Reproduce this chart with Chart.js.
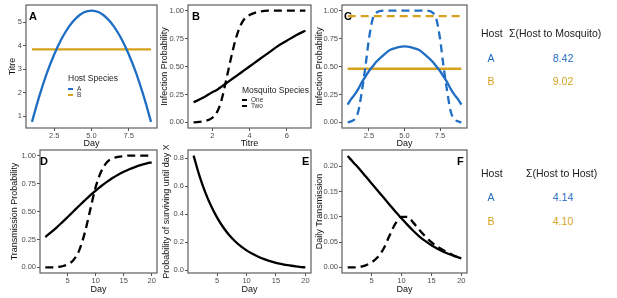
<!DOCTYPE html>
<html>
<head>
<meta charset="utf-8">
<script src="https://cdn.jsdelivr.net/npm/chart.js@4.4.1/dist/chart.umd.min.js"></script>
<style>
body { margin: 0; background: #fff; width: 617px; height: 298px; position: relative; overflow: hidden;
       font-family: 'Liberation Sans', Arial, sans-serif; }
canvas { position: absolute; }
.t { position: absolute; white-space: nowrap; line-height: 1; }
.l { transform: translateY(-50%); }
.c { transform: translate(-50%, -50%); }
.tag { font-weight: bold; font-size: 11px; color: #000; }
.tab { font-size: 10.5px; color: #222; }
.leg { font-size: 8.5px; color: #222; }
.key { font-size: 6.5px; color: #333; }
.sw { position: absolute; width: 5px; height: 2px; }
</style>
</head>
<body>
<canvas id="pA" width="160" height="150" style="left:0;top:0"></canvas>
<canvas id="pB" width="156" height="150" style="left:158px;top:0"></canvas>
<canvas id="pC" width="156" height="150" style="left:314px;top:0"></canvas>
<canvas id="pD" width="160" height="150" style="left:0;top:145px"></canvas>
<canvas id="pE" width="156" height="150" style="left:158px;top:145px"></canvas>
<canvas id="pF" width="156" height="150" style="left:314px;top:145px"></canvas>

<!-- panel tags -->
<div class="t l tag" style="left:29px;top:16px">A</div>
<div class="t l tag" style="left:192px;top:16px">B</div>
<div class="t l tag" style="left:344px;top:16px">C</div>
<div class="t l tag" style="left:40px;top:161px">D</div>
<div class="t l tag" style="left:302px;top:161px">E</div>
<div class="t l tag" style="left:457px;top:161px">F</div>

<!-- legend panel A -->
<div class="t l leg" style="left:68px;top:78px">Host Species</div>
<div class="sw" style="left:68px;top:88px;background:#1f6ec4"></div>
<div class="sw" style="left:68px;top:94px;background:#d6a21e"></div>
<div class="t l key" style="left:77px;top:89px">A</div>
<div class="t l key" style="left:77px;top:95px">B</div>

<!-- legend panel B -->
<div class="t l leg" style="left:242px;top:90px">Mosquito Species</div>
<div class="sw" style="left:242px;top:99px;background:#000"></div>
<div class="sw" style="left:242px;top:105px;background:#000"></div>
<div class="t l key" style="left:251px;top:100px">One</div>
<div class="t l key" style="left:251px;top:106px">Two</div>

<!-- tables -->
<div class="t l tab" style="left:481px;top:33px">Host</div>
<div class="t l tab" style="left:509px;top:33px">Σ(Host to Mosquito)</div>
<div class="t c tab" style="left:491px;top:58px;color:#1f6ec4">A</div>
<div class="t c tab" style="left:563px;top:58px;color:#1f6ec4">8.42</div>
<div class="t c tab" style="left:491px;top:81px;color:#d6a21e">B</div>
<div class="t c tab" style="left:563px;top:81px;color:#d6a21e">9.02</div>

<div class="t l tab" style="left:481px;top:173px">Host</div>
<div class="t l tab" style="left:526px;top:173px">Σ(Host to Host)</div>
<div class="t c tab" style="left:491px;top:197px;color:#1f6ec4">A</div>
<div class="t c tab" style="left:563px;top:197px;color:#1f6ec4">4.14</div>
<div class="t c tab" style="left:491px;top:221px;color:#d6a21e">B</div>
<div class="t c tab" style="left:563px;top:221px;color:#d6a21e">4.10</div>

<script>
const BLUE = '#1f6ec4';
const GOLD = '#d6a21e';

// Panel A: titre by day
const daysA = [1, 1.5, 2, 2.5, 3, 3.5, 4, 4.5, 5, 5.5, 6, 6.5, 7, 7.5, 8, 8.5, 9];
const titreHostA = [0.75, 1.86, 2.83, 3.64, 4.31, 4.83, 5.2, 5.43, 5.5, 5.43, 5.2, 4.83, 4.31, 3.64, 2.83, 1.86, 0.75];
const dayEnds = [1, 9];
const titreHostB = [3.85, 3.85];

// Panel B: infection probability by titre
const titreX = [1, 1.5, 2, 2.25, 2.5, 2.75, 3, 3.25, 3.5, 3.75, 4, 4.5, 5, 5.5, 6, 6.5, 7];
const infMosqOne = [0.18, 0.22, 0.27, 0.29, 0.32, 0.35, 0.38, 0.41, 0.44, 0.47, 0.50, 0.56, 0.62, 0.68, 0.73, 0.78, 0.82];
const infMosqTwo = [0, 0.01, 0.04, 0.09, 0.2, 0.38, 0.57, 0.74, 0.86, 0.93, 0.96, 0.99, 1, 1, 1, 1, 1];

// Panel C: infection probability by day
const daysC = [1, 1.25, 1.5, 1.75, 2, 2.25, 2.5, 2.75, 3, 3.5, 4, 4.5, 5, 5.5, 6, 6.5, 7, 7.25, 7.5, 7.75, 8, 8.25, 8.5, 8.75, 9];
const infAOne = [0.16, 0.21, 0.25, 0.30, 0.36, 0.41, 0.46, 0.50, 0.54, 0.60, 0.65, 0.67, 0.68, 0.67, 0.65, 0.60, 0.54, 0.50, 0.46, 0.41, 0.36, 0.30, 0.25, 0.21, 0.16];
const infATwo = [0, 0.01, 0.03, 0.1, 0.28, 0.5, 0.75, 0.92, 0.98, 1, 1, 1, 1, 1, 1, 1, 0.98, 0.92, 0.75, 0.5, 0.28, 0.1, 0.03, 0.01, 0];
const infBOne = [0.48, 0.48];
const infBTwo = [0.95, 0.95];

// Panels D-F: by day 1..20
const daysD = [1, 2, 3, 4, 5, 6, 7, 8, 9, 10, 11, 12, 13, 14, 15, 16, 17, 18, 19, 20];
const transOne = [0.272, 0.313, 0.356, 0.403, 0.451, 0.5, 0.549, 0.597, 0.644, 0.687, 0.728, 0.765, 0.799, 0.829, 0.855, 0.878, 0.897, 0.914, 0.928, 0.94];
const transTwo = [0, 0, 0.003, 0.01, 0.027, 0.065, 0.146, 0.30, 0.51, 0.72, 0.86, 0.94, 0.974, 0.989, 0.995, 1, 1, 1, 1, 1];
const survive = [0.82, 0.675, 0.555, 0.457, 0.376, 0.309, 0.254, 0.209, 0.172, 0.142, 0.117, 0.096, 0.079, 0.065, 0.053, 0.044, 0.036, 0.030, 0.024, 0.020];
const dailyOne = [0.22, 0.207, 0.194, 0.18, 0.166, 0.152, 0.138, 0.124, 0.11, 0.097, 0.084, 0.072, 0.061, 0.052, 0.044, 0.037, 0.031, 0.026, 0.022, 0.018];
const dailyTwo = [0, 0, 0.001, 0.004, 0.01, 0.02, 0.037, 0.063, 0.087, 0.1, 0.1, 0.088, 0.074, 0.061, 0.05, 0.041, 0.034, 0.028, 0.022, 0.018];

// tick labels
const ticksDay9 = [2.5, 5, 7.5];
const ticksTitre = [2, 4, 6];
const ticksDay20 = [5, 10, 15, 20];
const ticksTitreY = [1, 2, 3, 4, 5];
const ticksProb = [0, 0.25, 0.5, 0.75, 1];
const ticksSurv = [0, 0.2, 0.4, 0.6, 0.8];
const ticksDaily = [0, 0.05, 0.1, 0.15, 0.2];

Chart.defaults.font.family = "'Liberation Sans', Arial, sans-serif";

// grey frame round the plot area, like the ggplot panel border
const boxPlugin = {
    id: 'box',
    afterDatasetsDraw(chart) {
        const a = chart.chartArea;
        const c = chart.ctx;
        c.save();
        c.strokeStyle = '#5e5e5e';
        c.lineWidth = 1.2;
        c.strokeRect(a.left, a.top, a.right - a.left, a.bottom - a.top);
        c.restore();
    }
};

function series(xs, ys, color, dashed) {
    return {
        data: xs.map((x, i) => ({ x: x, y: ys[i] })),
        borderColor: color,
        borderWidth: 2.3,
        borderDash: dashed ? [8, 5] : [],
        pointRadius: 0,
        cubicInterpolationMode: 'monotone',
        fill: false
    };
}

function axis(horizontal, min, max, ticks, dec, title, size, titlePad) {
    return {
        type: 'linear',
        min: min,
        max: max,
        afterBuildTicks: s => { s.ticks = ticks.map(v => ({ value: v })); },
        afterFit: s => {
            if (horizontal) { s.height = size; s.paddingLeft = 0; s.paddingRight = 0; }
            else { s.width = size; s.paddingTop = 0; s.paddingBottom = 0; }
        },
        ticks: {
            callback: v => Number(v).toFixed(dec),
            color: '#4d4d4d',
            font: { size: 7.5 },
            padding: horizontal ? 0 : 1,
            maxRotation: 0,
            autoSkip: false
        },
        grid: { display: true, drawOnChartArea: false, drawTicks: true, tickLength: 3, color: '#555', lineWidth: 1 },
        border: { display: false },
        title: {
            display: true,
            text: title,
            color: '#111',
            font: { size: 9 },
            padding: horizontal ? { top: 0, bottom: titlePad } : { top: titlePad, bottom: 0 }
        }
    };
}

function panel(id, datasets, xAxis, yAxis) {
    new Chart(document.getElementById(id), {
        type: 'line',
        data: { datasets: datasets },
        options: {
            responsive: false,
            animation: false,
            events: [],
            layout: { padding: { left: 0, top: 5, right: 3, bottom: 0 } },
            plugins: { legend: { display: false }, tooltip: { enabled: false } },
            scales: { x: xAxis, y: yAxis }
        },
        plugins: [boxPlugin]
    });
}

panel('pA',
    [series(daysA, titreHostA, BLUE, false), series(dayEnds, titreHostB, GOLD, false)],
    axis(true, 0.6, 9.4, ticksDay9, 1, 'Day', 22, 0.8),
    axis(false, 0.49, 5.74, ticksTitreY, 0, 'Titre', 26, 7.6));

panel('pB',
    [series(titreX, infMosqOne, '#000', false), series(titreX, infMosqTwo, '#000', true)],
    axis(true, 0.7, 7.3, ticksTitre, 0, 'Titre', 22, 0.8),
    axis(false, -0.05, 1.05, ticksProb, 2, 'Infection Probability', 30, 1.6));

panel('pC',
    [series(daysC, infAOne, BLUE, false), series(daysC, infATwo, BLUE, true),
     series(dayEnds, infBOne, GOLD, false), series(dayEnds, infBTwo, GOLD, true)],
    axis(true, 0.6, 9.4, ticksDay9, 1, 'Day', 22, 0.8),
    axis(false, -0.05, 1.05, ticksProb, 2, 'Infection Probability', 28, 0.6));

panel('pD',
    [series(daysD, transOne, '#000', false), series(daysD, transTwo, '#000', true)],
    axis(true, 0.05, 20.95, ticksDay20, 0, 'Day', 22, 0),
    axis(false, -0.05, 1.05, ticksProb, 2, 'Transmission Probability', 40, 9.6));

panel('pE',
    [series(daysD, survive, '#000', false)],
    axis(true, 0.05, 20.95, ticksDay20, 0, 'Day', 22, 0),
    axis(false, -0.02, 0.86, ticksSurv, 1, 'Probability of surviving until day X', 30, 3.6));

panel('pF',
    [series(daysD, dailyOne, '#000', false), series(daysD, dailyTwo, '#000', true)],
    axis(true, 0.05, 20.95, ticksDay20, 0, 'Day', 22, 0),
    axis(false, -0.011, 0.232, ticksDaily, 2, 'Daily Transmission', 28, 0.6));
</script>
</body>
</html>
